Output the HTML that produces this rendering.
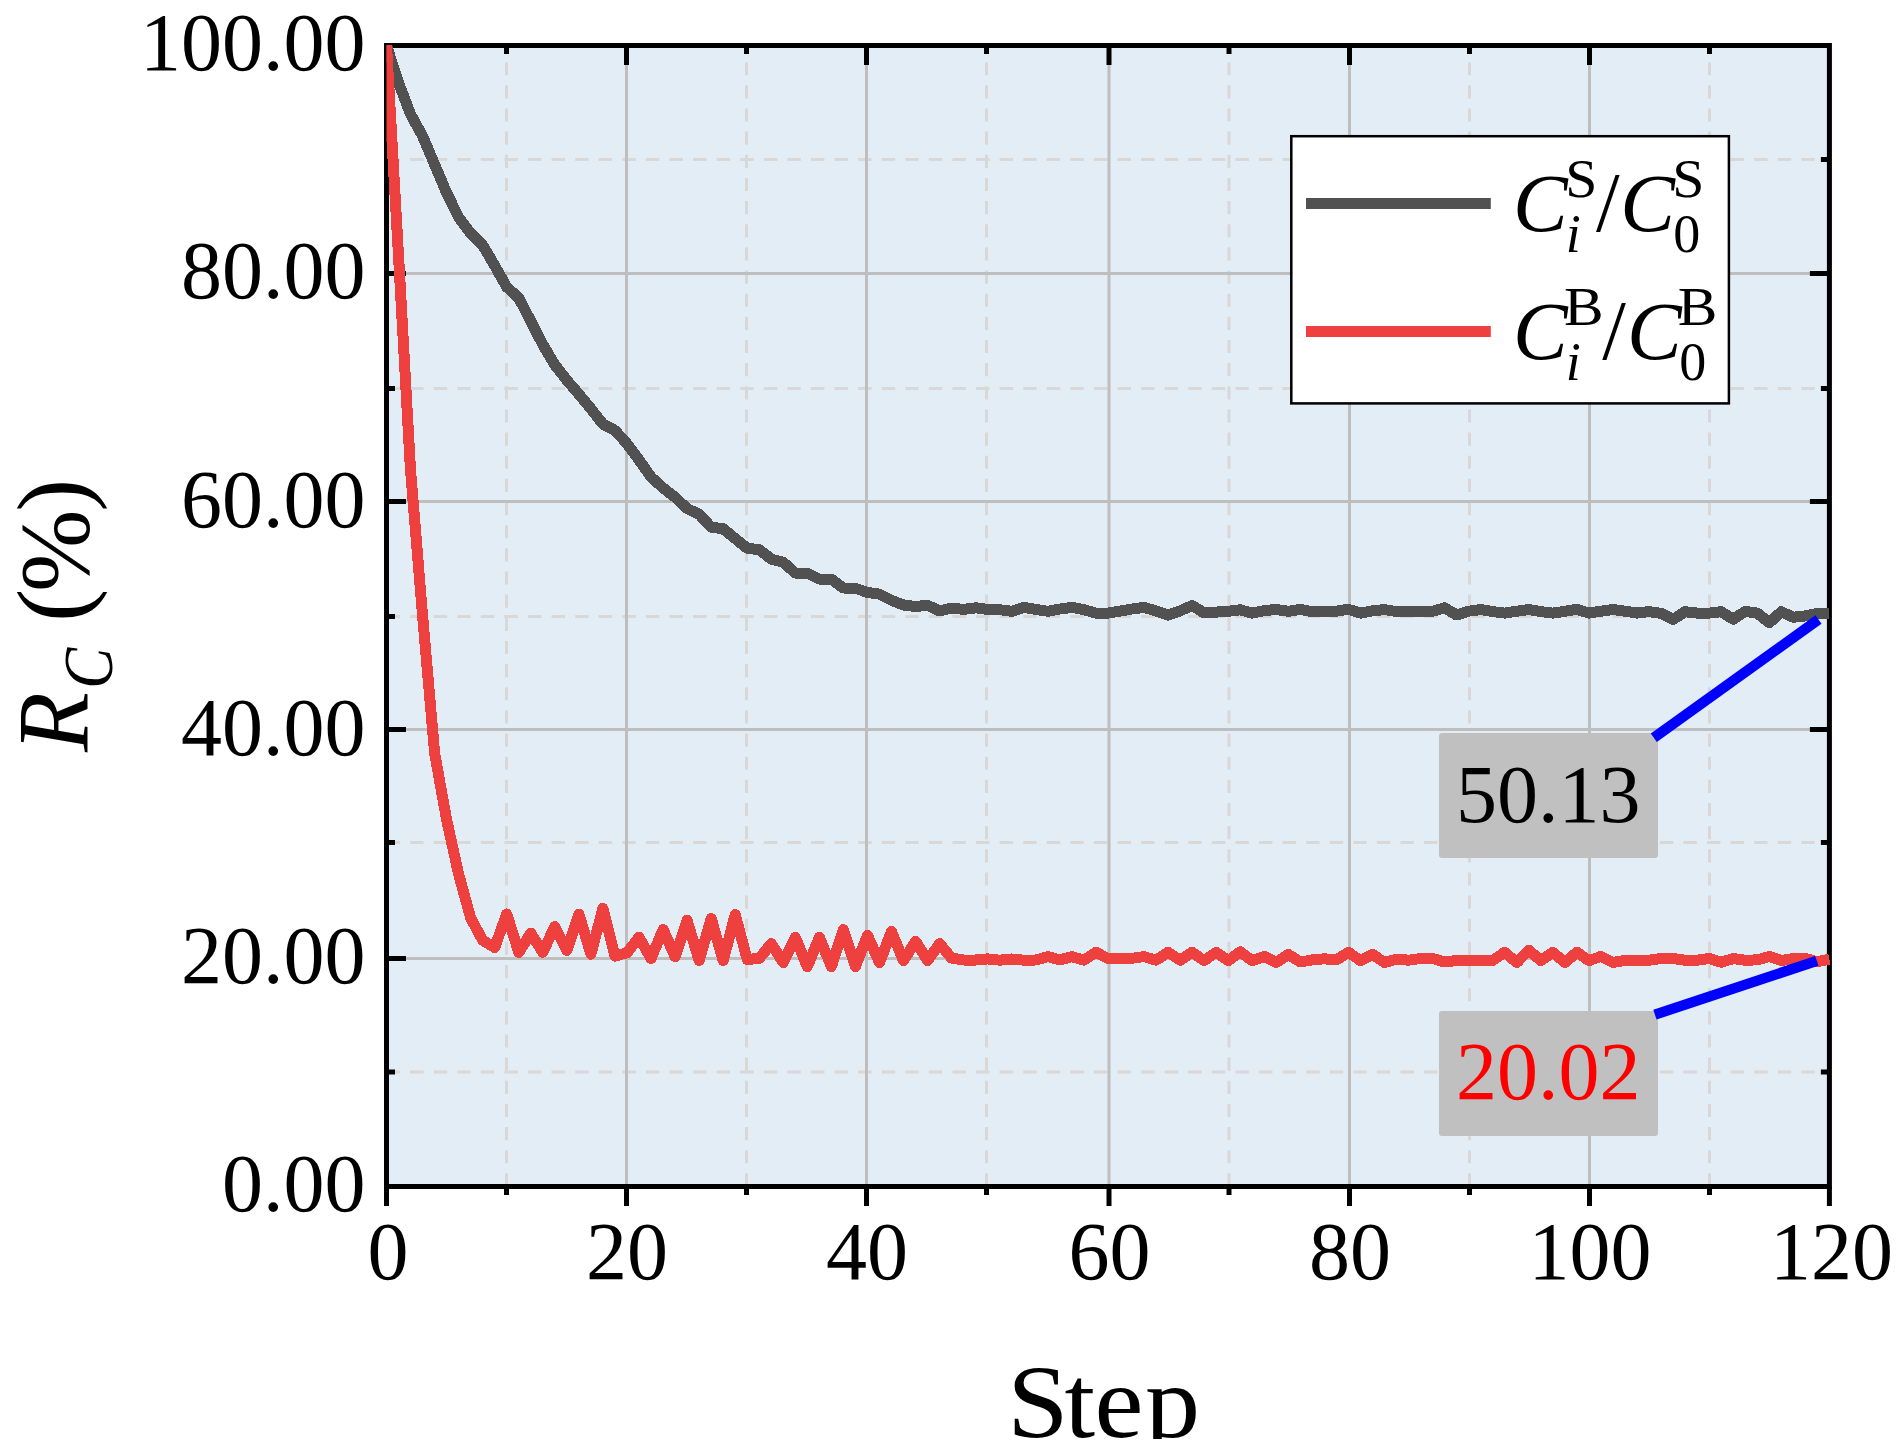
<!DOCTYPE html>
<html lang="en"><head><meta charset="utf-8"><title>R_C (%) vs Step</title>
<style>html,body{margin:0;padding:0;background:#fff}svg{display:block}text{font-family:"Liberation Serif","Times New Roman",serif;fill:#000}.i{font-style:italic}</style></head><body>
<svg width="1904" height="1454" viewBox="0 0 1904 1454">
<defs><clipPath id="pc"><rect x="386.5" y="45.0" width="1443.5" height="1141.5"/></clipPath>
<clipPath id="sc"><rect x="900" y="1300" width="420" height="139"/></clipPath></defs>
<rect width="1904" height="1454" fill="#fff"/>
<rect x="386.5" y="45.5" width="1442.9" height="1141.0" fill="#E3EDF6"/>
<g stroke="#DAD8D6" stroke-width="3" fill="none">
<line x1="506.5" y1="1186.5" x2="506.5" y2="45.5" stroke-dasharray="13.15 10"/>
<line x1="746.5" y1="1186.5" x2="746.5" y2="45.5" stroke-dasharray="13.15 10"/>
<line x1="986.5" y1="1186.5" x2="986.5" y2="45.5" stroke-dasharray="13.15 10"/>
<line x1="1229.0" y1="1186.5" x2="1229.0" y2="45.5" stroke-dasharray="13.15 10"/>
<line x1="1469.5" y1="1186.5" x2="1469.5" y2="45.5" stroke-dasharray="13.15 10"/>
<line x1="1709.5" y1="1186.5" x2="1709.5" y2="45.5" stroke-dasharray="13.15 10"/>
<line x1="386.5" y1="1072.0" x2="1829.4" y2="1072.0" stroke-dasharray="13.5 10.08"/>
<line x1="386.5" y1="842.5" x2="1829.4" y2="842.5" stroke-dasharray="13.5 10.08"/>
<line x1="386.5" y1="616.5" x2="1829.4" y2="616.5" stroke-dasharray="13.5 10.08"/>
<line x1="386.5" y1="388.5" x2="1829.4" y2="388.5" stroke-dasharray="13.5 10.08"/>
<line x1="386.5" y1="159.5" x2="1829.4" y2="159.5" stroke-dasharray="13.5 10.08"/>
</g>
<g stroke="#BEBEBE" stroke-width="3" fill="none">
<line x1="626.5" y1="1186.5" x2="626.5" y2="45.5"/>
<line x1="866.5" y1="1186.5" x2="866.5" y2="45.5"/>
<line x1="1109.0" y1="1186.5" x2="1109.0" y2="45.5"/>
<line x1="1349.5" y1="1186.5" x2="1349.5" y2="45.5"/>
<line x1="1589.5" y1="1186.5" x2="1589.5" y2="45.5"/>
<line x1="386.5" y1="958.5" x2="1829.4" y2="958.5"/>
<line x1="386.5" y1="729.5" x2="1829.4" y2="729.5"/>
<line x1="386.5" y1="501.5" x2="1829.4" y2="501.5"/>
<line x1="386.5" y1="273.5" x2="1829.4" y2="273.5"/>
</g>
<g stroke="#000" stroke-width="5" fill="none">
<rect x="386.5" y="45.5" width="1442.9" height="1141.0"/>
<line x1="386.5" y1="1186.5" x2="386.5" y2="1206.0"/>
<line x1="506.5" y1="45.5" x2="506.5" y2="54.0"/>
<line x1="506.5" y1="1186.5" x2="506.5" y2="1195.0"/>
<line x1="626.5" y1="45.5" x2="626.5" y2="65.0"/>
<line x1="626.5" y1="1186.5" x2="626.5" y2="1206.0"/>
<line x1="746.5" y1="45.5" x2="746.5" y2="54.0"/>
<line x1="746.5" y1="1186.5" x2="746.5" y2="1195.0"/>
<line x1="866.5" y1="45.5" x2="866.5" y2="65.0"/>
<line x1="866.5" y1="1186.5" x2="866.5" y2="1206.0"/>
<line x1="986.5" y1="45.5" x2="986.5" y2="54.0"/>
<line x1="986.5" y1="1186.5" x2="986.5" y2="1195.0"/>
<line x1="1109.0" y1="45.5" x2="1109.0" y2="65.0"/>
<line x1="1109.0" y1="1186.5" x2="1109.0" y2="1206.0"/>
<line x1="1229.0" y1="45.5" x2="1229.0" y2="54.0"/>
<line x1="1229.0" y1="1186.5" x2="1229.0" y2="1195.0"/>
<line x1="1349.5" y1="45.5" x2="1349.5" y2="65.0"/>
<line x1="1349.5" y1="1186.5" x2="1349.5" y2="1206.0"/>
<line x1="1469.5" y1="45.5" x2="1469.5" y2="54.0"/>
<line x1="1469.5" y1="1186.5" x2="1469.5" y2="1195.0"/>
<line x1="1589.5" y1="45.5" x2="1589.5" y2="65.0"/>
<line x1="1589.5" y1="1186.5" x2="1589.5" y2="1206.0"/>
<line x1="1709.5" y1="45.5" x2="1709.5" y2="54.0"/>
<line x1="1709.5" y1="1186.5" x2="1709.5" y2="1195.0"/>
<line x1="1829.4" y1="1186.5" x2="1829.4" y2="1206.0"/>
<line x1="386.5" y1="1072.0" x2="395.0" y2="1072.0"/>
<line x1="1829.4" y1="1072.0" x2="1820.9" y2="1072.0"/>
<line x1="386.5" y1="958.5" x2="406.0" y2="958.5"/>
<line x1="1829.4" y1="958.5" x2="1809.9" y2="958.5"/>
<line x1="386.5" y1="842.5" x2="395.0" y2="842.5"/>
<line x1="1829.4" y1="842.5" x2="1820.9" y2="842.5"/>
<line x1="386.5" y1="729.5" x2="406.0" y2="729.5"/>
<line x1="1829.4" y1="729.5" x2="1809.9" y2="729.5"/>
<line x1="386.5" y1="616.5" x2="395.0" y2="616.5"/>
<line x1="1829.4" y1="616.5" x2="1820.9" y2="616.5"/>
<line x1="386.5" y1="501.5" x2="406.0" y2="501.5"/>
<line x1="1829.4" y1="501.5" x2="1809.9" y2="501.5"/>
<line x1="386.5" y1="388.5" x2="395.0" y2="388.5"/>
<line x1="1829.4" y1="388.5" x2="1820.9" y2="388.5"/>
<line x1="386.5" y1="273.5" x2="406.0" y2="273.5"/>
<line x1="1829.4" y1="273.5" x2="1809.9" y2="273.5"/>
<line x1="386.5" y1="159.5" x2="395.0" y2="159.5"/>
<line x1="1829.4" y1="159.5" x2="1820.9" y2="159.5"/>
</g>
<g clip-path="url(#pc)" fill="none" stroke-linejoin="round" stroke-linecap="butt" shape-rendering="crispEdges">
<polyline stroke="#515151" stroke-width="11.0" points="386.5,45.5 398.5,82.6 410.5,114.1 422.6,136.1 434.6,164.5 446.6,192.8 458.6,217.2 470.7,233.5 482.7,245.2 494.7,265.7 506.7,287.0 518.8,298.0 530.8,321.2 542.8,344.6 554.8,364.8 566.9,380.3 578.9,394.2 590.9,408.7 602.9,424.1 615.0,430.4 627.0,443.7 639.0,459.9 651.0,477.0 663.1,487.9 675.1,497.3 687.1,508.6 699.1,514.2 711.2,527.2 723.2,528.8 735.2,538.6 747.2,548.3 759.2,549.6 771.3,559.1 783.3,562.3 795.3,573.1 807.3,573.3 819.4,579.1 831.4,579.3 843.4,588.0 855.4,588.3 867.5,592.4 879.5,594.2 891.5,600.3 903.5,605.0 915.6,606.5 927.6,605.3 939.6,611.0 951.6,608.1 963.7,609.4 975.7,607.8 987.7,609.4 999.7,609.7 1011.8,611.3 1023.8,607.4 1035.8,609.4 1047.8,611.3 1059.9,609.0 1071.9,607.4 1083.9,609.7 1095.9,613.1 1108.0,613.1 1120.0,611.1 1132.0,609.0 1144.0,607.4 1156.0,611.0 1168.1,615.1 1180.1,610.9 1192.1,605.5 1204.1,612.9 1216.2,612.1 1228.2,611.3 1240.2,609.8 1252.2,613.1 1264.3,610.6 1276.3,609.5 1288.3,611.3 1300.3,609.5 1312.4,611.6 1324.4,611.6 1336.4,611.2 1348.4,609.3 1360.5,613.1 1372.5,610.8 1384.5,609.6 1396.5,611.6 1408.6,611.6 1420.6,611.6 1432.6,611.2 1444.6,607.8 1456.7,615.0 1468.7,611.2 1480.7,609.5 1492.7,611.6 1504.7,613.1 1516.8,611.2 1528.8,609.5 1540.8,611.6 1552.8,613.1 1564.9,611.3 1576.9,609.3 1588.9,613.1 1600.9,611.2 1613.0,609.5 1625.0,611.2 1637.0,613.1 1649.0,611.6 1661.1,613.4 1673.1,619.4 1685.1,611.7 1697.1,613.1 1709.2,613.1 1721.2,611.7 1733.2,619.2 1745.2,611.4 1757.3,613.1 1769.3,622.8 1781.3,611.7 1793.3,617.3 1805.4,615.9 1817.4,613.5 1829.4,613.5"/>
<polyline stroke="#EF4040" stroke-width="11.0" points="386.5,45.5 398.5,255.4 410.5,470.0 422.6,616.0 434.6,752.9 446.6,819.7 458.6,874.1 470.7,918.1 482.7,940.3 494.7,947.6 506.7,914.0 518.8,952.3 530.8,933.2 542.8,952.3 554.8,926.6 566.9,950.4 578.9,914.0 590.9,954.2 602.9,908.4 615.0,956.2 627.0,952.8 639.0,937.3 651.0,958.5 663.1,929.4 675.1,956.7 687.1,920.3 699.1,960.5 711.2,918.4 723.2,960.6 735.2,914.5 747.2,959.4 759.2,958.5 771.3,943.6 783.3,962.6 795.3,937.4 807.3,966.6 819.4,937.4 831.4,966.6 843.4,929.5 855.4,966.6 867.5,935.4 879.5,962.6 891.5,931.5 903.5,960.6 915.6,941.4 927.6,960.6 939.6,943.6 951.6,958.1 963.7,960.0 975.7,960.0 987.7,958.9 999.7,960.2 1011.8,959.0 1023.8,960.2 1035.8,960.0 1047.8,956.6 1059.9,959.9 1071.9,956.6 1083.9,960.2 1095.9,952.3 1108.0,958.5 1120.0,958.5 1132.0,958.3 1144.0,956.6 1156.0,960.2 1168.1,952.3 1180.1,960.2 1192.1,952.3 1204.1,960.6 1216.2,952.3 1228.2,960.6 1240.2,951.9 1252.2,960.6 1264.3,956.5 1276.3,962.5 1288.3,954.4 1300.3,962.0 1312.4,959.9 1324.4,958.8 1336.4,959.9 1348.4,952.3 1360.5,960.6 1372.5,954.4 1384.5,962.5 1396.5,959.1 1408.6,960.2 1420.6,958.5 1432.6,958.5 1444.6,962.0 1456.7,960.5 1468.7,960.5 1480.7,960.5 1492.7,960.4 1504.7,952.3 1516.8,962.5 1528.8,950.2 1540.8,960.6 1552.8,952.3 1564.9,962.5 1576.9,952.3 1588.9,960.6 1600.9,956.5 1613.0,962.5 1625.0,960.5 1637.0,960.5 1649.0,960.2 1661.1,958.5 1673.1,958.6 1685.1,960.2 1697.1,960.2 1709.2,958.5 1721.2,962.2 1733.2,958.6 1745.2,960.2 1757.3,959.9 1769.3,956.5 1781.3,960.5 1793.3,958.6 1805.4,958.6 1817.4,961.7 1829.4,959.1"/>
</g>
<rect x="1439" y="733" width="219" height="125" rx="3" fill="#C0C0C0"/>
<rect x="1439" y="1011" width="219" height="125" rx="3" fill="#C0C0C0"/>
<line x1="1653.8" y1="737.7" x2="1818.5" y2="619.5" stroke="#0000FF" stroke-width="10.4"/>
<line x1="1654.9" y1="1014.6" x2="1816.8" y2="960.9" stroke="#0000FF" stroke-width="10.4"/>
<text x="1548.3" y="822" font-size="82" text-anchor="middle">50.13</text>
<text x="1548.3" y="1099" font-size="82" text-anchor="middle" style="fill:#FF0000">20.02</text>
<rect x="1291.3" y="136.2" width="437.6" height="267.2" fill="#fff" stroke="#000" stroke-width="2.5"/>
<line x1="1306" y1="203.5" x2="1490.8" y2="203.5" stroke="#515151" stroke-width="11.0"/>
<line x1="1306" y1="331.5" x2="1490.8" y2="331.5" stroke="#EF4040" stroke-width="11.0"/>
<text transform="translate(1512.90 231.00)" font-size="82" class="i">C</text>
<text transform="translate(1565.25 197.30) scale(1.050 1)" font-size="55">S</text>
<text transform="translate(1565.70 251.50)" font-size="54" class="i">i</text>
<text transform="translate(1596.00 231.00)" font-size="85">/</text>
<text transform="translate(1620.30 231.00)" font-size="82" class="i">C</text>
<text transform="translate(1672.35 197.30) scale(1.050 1)" font-size="55">S</text>
<text transform="translate(1673.30 251.50)" font-size="54">0</text>
<text transform="translate(1512.90 359.00)" font-size="82" class="i">C</text>
<text transform="translate(1563.90 324.70) scale(1.100 1)" font-size="54">B</text>
<text transform="translate(1565.70 380.30)" font-size="54" class="i">i</text>
<text transform="translate(1602.20 359.00)" font-size="85">/</text>
<text transform="translate(1627.10 359.00)" font-size="82" class="i">C</text>
<text transform="translate(1677.70 324.70) scale(1.100 1)" font-size="54">B</text>
<text transform="translate(1679.30 380.30)" font-size="54">0</text>
<text x="365.5" y="1211.1" font-size="82" text-anchor="end">0.00</text>
<text x="365.5" y="982.9" font-size="82" text-anchor="end">20.00</text>
<text x="365.5" y="754.7" font-size="82" text-anchor="end">40.00</text>
<text x="365.5" y="526.5" font-size="82" text-anchor="end">60.00</text>
<text x="365.5" y="298.3" font-size="82" text-anchor="end">80.00</text>
<text x="365.5" y="70.1" font-size="82" text-anchor="end">100.00</text>
<text x="387.9" y="1279" font-size="82" text-anchor="middle">0</text>
<text x="627.0" y="1279" font-size="82" text-anchor="middle">20</text>
<text x="867.0" y="1279" font-size="82" text-anchor="middle">40</text>
<text x="1109.5" y="1279" font-size="82" text-anchor="middle">60</text>
<text x="1350.0" y="1279" font-size="82" text-anchor="middle">80</text>
<text x="1590.0" y="1279" font-size="82" text-anchor="middle">100</text>
<text x="1831.4" y="1279" font-size="82" text-anchor="middle">120</text>
<g clip-path="url(#sc)"><text transform="translate(0 1437) scale(1.06 1)" x="950.14 1004.29 1032.64 1080.28" y="0" font-size="104">Step</text></g>
<text transform="translate(87.8 751.9) rotate(-90) scale(0.970 1)" font-size="101" class="i">R</text>
<text transform="translate(112.3 688.7) rotate(-90) scale(0.877 1)" font-size="70" class="i">C</text>
<text transform="translate(0 756) rotate(-90)" x="134.2 164.1 244.3" y="86.2 87.6 86.2" font-size="99">(%)</text>
</svg></body></html>
